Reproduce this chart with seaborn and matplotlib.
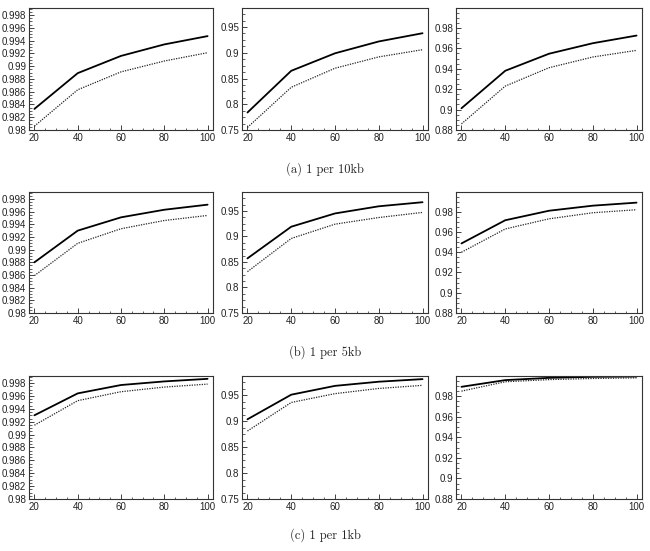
import numpy as np
import pandas as pd
import seaborn as sns
import matplotlib
matplotlib.use("Agg")
import matplotlib.pyplot as plt
from matplotlib.ticker import MultipleLocator, AutoMinorLocator, FuncFormatter

sns.set_theme(style="white")
plt.rcParams['font.family'] = ['Liberation Sans', 'DejaVu Sans']

x_vals = [20, 40, 60, 80, 100]
captions = ["(a) 1 per 10kb", "(b) 1 per 5kb", "(c) 1 per 1kb"]

# row a
a1_solid = [0.9833, 0.9889, 0.9916, 0.9934, 0.9947]
a1_dot = [0.9806, 0.9863, 0.9891, 0.9908, 0.9921]
a2_solid = [0.784, 0.865, 0.899, 0.922, 0.938]
a2_dot = [0.755, 0.833, 0.870, 0.892, 0.906]
a3_solid = [0.9013, 0.938, 0.9547, 0.965, 0.9725]
a3_dot = [0.886, 0.923, 0.941, 0.9515, 0.958]
# row b
b1_solid = [0.9880, 0.9930, 0.9951, 0.9963, 0.9971]
b1_dot = [0.9859, 0.9910, 0.9933, 0.9946, 0.9954]
b2_solid = [0.857, 0.919, 0.945, 0.959, 0.967]
b2_dot = [0.831, 0.896, 0.924, 0.937, 0.947]
b3_solid = [0.9487, 0.9716, 0.981, 0.986, 0.989]
b3_dot = [0.940, 0.963, 0.973, 0.979, 0.982]
# row c
c1_solid = [0.9930, 0.9964, 0.9977, 0.99826, 0.99866]
c1_dot = [0.99146, 0.99527, 0.99666, 0.99738, 0.99784]
c2_solid = [0.9036, 0.951, 0.968, 0.976, 0.981]
c2_dot = [0.881, 0.936, 0.953, 0.963, 0.969]
c3_solid = [0.989, 0.9955, 0.9977, 0.9987, 0.9990]
c3_dot = [0.9848, 0.9939, 0.9960, 0.9971, 0.9977]

solid = [[a1_solid, a2_solid, a3_solid],
         [b1_solid, b2_solid, b3_solid],
         [c1_solid, c2_solid, c3_solid]]
dotted = [[a1_dot, a2_dot, a3_dot],
          [b1_dot, b2_dot, b3_dot],
          [c1_dot, c2_dot, c3_dot]]

col_ylim = [(0.98, 0.9991), (0.75, 0.987), (0.88, 0.9995)]
col_major = [0.002, 0.05, 0.02]

W, H = 650, 551
fig = plt.figure(figsize=(W / 100, H / 100), dpi=100)

rows_px = [(8, 130), (192, 313), (376, 499)]
cols_px = [(29, 213), (242, 428), (456, 642)]
cap_y = [169, 352, 535]

fmt = FuncFormatter(lambda v, p: ('%g' % round(v, 6)))

for r in range(3):
    t, b = rows_px[r]
    for c in range(3):
        l, rr = cols_px[c]
        ax = fig.add_axes([l / W, 1 - b / H, (rr - l) / W, (b - t) / H])
        df = pd.DataFrame({"x": x_vals, "solid": solid[r][c], "dotted": dotted[r][c]})
        sns.lineplot(data=df, x="x", y="solid", ax=ax, color="black", lw=1.3)
        sns.lineplot(data=df, x="x", y="dotted", ax=ax, color="#222222", lw=0.9,
                     linestyle=(0, (1, 1)))
        ax.set_xlim(17.5, 102.5)
        ax.set_ylim(*col_ylim[c])
        ax.xaxis.set_major_locator(MultipleLocator(20))
        ax.xaxis.set_minor_locator(AutoMinorLocator(4))
        ax.yaxis.set_major_locator(MultipleLocator(col_major[c]))
        ax.yaxis.set_minor_locator(AutoMinorLocator(4))
        ax.yaxis.set_major_formatter(fmt)
        ax.set_xlabel("")
        ax.set_ylabel("")
        ax.tick_params(which="both", direction="in", labelsize=7, colors="#222222",
                       left=True, bottom=True, top=False, right=False, pad=2)
        ax.tick_params(which="major", length=3.5, width=0.6)
        ax.tick_params(which="minor", length=1.8, width=0.5)
        for s in ax.spines.values():
            s.set_color("#333333")
            s.set_linewidth(0.8)
    fig.text(0.5, 1 - cap_y[r] / H, captions[r], ha="center", va="center",
             fontsize=9, family=["cmr10", "DejaVu Serif"])

fig.savefig("out.png", dpi=100)
